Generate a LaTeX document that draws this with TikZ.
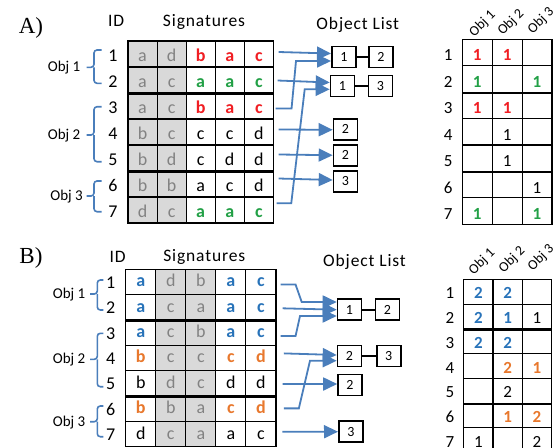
\documentclass[tikz,border=0pt]{standalone}
\usepackage{graphicx}
\usepackage{fontspec}
\setmainfont{Carlito}
\newfontfamily\panelfont{Liberation Serif}
\usetikzlibrary{arrows.meta,calc}
\definecolor{gfill}{RGB}{217,217,217}
\definecolor{gtext}{RGB}{130,130,130}
\definecolor{cred}{RGB}{240,30,35}
\definecolor{cgreen}{RGB}{34,160,70}
\definecolor{cblue}{RGB}{40,115,185}
\definecolor{corange}{RGB}{232,120,45}
\definecolor{ablue}{RGB}{74,126,187}
\newcommand\TGy[1]{\textcolor{gtext}{#1}}
\newcommand\TRd[1]{\textcolor{cred}{\textbf{#1}}}
\newcommand\TGn[1]{\textcolor{cgreen}{\textbf{#1}}}
\newcommand\TBu[1]{\textcolor{cblue}{\textbf{#1}}}
\newcommand\TOr[1]{\textcolor{corange}{\textbf{#1}}}
\newcommand\TRot[1]{\rotatebox{45}{#1}}
\begin{document}
\begin{tikzpicture}[x=1pt,y=-1pt,
  paneltitle/.style={anchor=base,inner sep=0pt,font=\panelfont\fontsize{23}{25}\selectfont},
  hdr/.style={anchor=base,inner sep=0pt,font=\fontsize{17.5}{20}\selectfont\addfontfeature{LetterSpace=5}},
  cellA/.style={draw,line width=1.1pt,minimum width=29.06pt,minimum height=26pt,inner sep=0pt,
    text height=15.4pt,text depth=0pt,font=\fontsize{18}{20}\selectfont},
  cellB/.style={draw,line width=1.1pt,minimum width=30.06pt,minimum height=25.34pt,inner sep=0pt,
    text height=11pt,text depth=1pt,font=\fontsize{18}{20}\selectfont},
  matA/.style={draw,line width=1.1pt,minimum width=29.9pt,minimum height=26.43pt,inner sep=0pt,
    text height=16.8pt,text depth=0pt,font=\fontsize{17}{19}\selectfont},
  matB/.style={draw,line width=1.1pt,minimum width=29.33pt,minimum height=24.77pt,inner sep=0pt,
    text height=14pt,text depth=0pt,font=\fontsize{17}{19}\selectfont},
  rowlab/.style={anchor=base,inner sep=0pt,font=\fontsize{18}{20}\selectfont},
  rowlabm/.style={anchor=base,inner sep=0pt,font=\fontsize{17}{19}\selectfont},
  objlab/.style={anchor=base east,inner sep=0pt,font=\fontsize{15}{17}\selectfont},
  colhdr/.style={inner sep=0pt,font=\fontsize{14}{16}\selectfont},
  sepline/.style={line width=2.4pt},
  obox/.style={draw,line width=1.6pt,minimum width=24pt,minimum height=21pt,inner sep=0pt,
    font=\fontsize{14}{16}\selectfont},
  boxlink/.style={line width=1.6pt},
  arr/.style={draw=ablue,line width=1.8pt,-{Triangle[length=14pt,width=13pt]}},
  bracestyle/.style={draw=ablue,line width=1.6pt,rounded corners=3pt}
]
\useasboundingbox (0,0) rectangle (559,447);

%================ Panel A =================
\node[paneltitle] (tA) at (31,33.3) {A)};
\node[hdr] (idA) at (116.2,26.7) {ID};
\node[hdr] (sigA) at (204,26.7) {Signatures};
\node[hdr] (olA) at (357.8,29.3) {Object List};

\fill[gfill] (128,41) rectangle ({128+2*29.06},223);
\foreach \r/\row in {
  1/{\TGy{a},\TGy{d},\TRd{b},\TRd{a},\TRd{c}},
  2/{\TGy{a},\TGy{c},\TGn{a},\TGn{a},\TGn{c}},
  3/{\TGy{a},\TGy{c},\TRd{b},\TRd{a},\TRd{c}},
  4/{\TGy{b},\TGy{c},c,c,d},
  5/{\TGy{b},\TGy{d},c,d,d},
  6/{\TGy{b},\TGy{b},a,c,d},
  7/{\TGy{d},\TGy{c},\TGn{a},\TGn{a},\TGn{c}}}{
  \foreach \t [count=\c] in \row {
    \node[cellA] (A-\r-\c) at ({128+29.06*(\c-0.5)},{41+26*(\r-0.5)}) {\t};
  }
}
\draw[sepline] (A-2-1.south west) -- (A-2-5.south east);
\draw[sepline] (A-5-1.south west) -- (A-5-5.south east);
\foreach \r in {1,...,7}
  \node[rowlab] (lA-\r) at (113,{41+26*(\r-0.5)+7.7}) {\r};

% braces A
\draw[bracestyle] (101.7,50) -- (94,50) -- (94,67.3) -- (86.7,67.3);
\draw[bracestyle] (94,67.3) -- (94,83.3) -- (101.7,83.3);
\draw[bracestyle] (101.7,106.7) -- (94,106.7) -- (94,135) -- (86.7,135);
\draw[bracestyle] (94,135) -- (94,161.7) -- (101.7,161.7);
\draw[bracestyle] (101.7,181) -- (94,181) -- (94,196) -- (86.7,196);
\draw[bracestyle] (94,196) -- (94,211.7) -- (101.7,211.7);
\node[objlab] (oa1) at (80.5,71.7) {Obj 1};
\node[objlab] (oa2) at (80.5,139.4) {Obj 2};
\node[objlab] (oa3) at (83,200.4) {Obj 3};

% object list A
\node[obox] (oA1a) at (343.8,56.8) {1};
\node[obox] (oA1b) at (380.8,56.8) {2};
\node[obox] (oA2a) at (342.5,85.8) {1};
\node[obox] (oA2b) at (380.5,85.8) {3};
\node[obox] (oA3) at (345.5,129.3) {2};
\node[obox] (oA4) at (345.5,155.2) {2};
\node[obox] (oA5) at (345.5,181.3) {3};
\draw[boxlink] (oA1a.east) -- (oA1b.west);
\draw[boxlink] (oA2a.east) -- (oA2b.west);

% arrows A
\draw[arr] ($(A-1-5.east)+(4.7,-2)$) -- ($(oA1a.west)+(0,-3.3)$);
\draw[arr] ($(A-2-5.east)+(3.7,0.5)$) -- ($(oA2a.west)+(0,-3.3)$);
\draw[arr] ($(A-3-5.east)+(1.7,2.5)$) -- ++(16,0) -- ($(oA1a.west)+(-35,4.2)$) -- ($(oA1a.west)+(0,4.2)$);
\draw[arr] ($(A-4-5.east)+(4.7,-2.5)$) -- ($(oA3.west)+(0,0.5)$);
\draw[arr] ($(A-5-5.east)+(4.7,-3.5)$) -- ($(oA4.west)+(0,0)$);
\draw[arr] ($(A-6-5.east)+(4.7,-5.5)$) -- ($(oA5.west)+(0,-1.3)$);
\draw[arr] ($(A-7-5.east)+(2.7,-6.7)$) -- ++(14.7,0) -- ($(oA2a.west)+(-25,3.5)$) -- ($(oA2a.west)+(0,3.5)$);

% matrix A
\node[colhdr] (hA1) at (482.5,24) {\TRot{Obj 1}};
\node[colhdr] (hA2) at (511,22.5) {\TRot{Obj 2}};
\node[colhdr] (hA3) at (541,21) {\TRot{Obj 3}};
\foreach \r/\row in {
  1/{\TRd{1},\TRd{1},{}},
  2/{\TGn{1},{},\TGn{1}},
  3/{\TRd{1},\TRd{1},{}},
  4/{{},1,{}},
  5/{{},1,{}},
  6/{{},{},1},
  7/{\TGn{1},{},\TGn{1}}}{
  \foreach \t [count=\c] in \row {
    \node[matA] (MA-\r-\c) at ({462.3+29.9*(\c-0.5)},{39.3+26.43*(\r-0.5)}) {\t};
  }
}
\draw[sepline] (MA-2-1.south west) -- (MA-2-3.south east);
\draw[sepline] (MA-5-1.south west) -- (MA-5-3.south east);
\foreach \r in {1,...,7}
  \node[rowlabm] (rA-\r) at (448.3,{39.3+26.43*(\r-0.5)+8.4}) {\r};

%================ Panel B =================
\node[paneltitle] (tB) at (31,263.5) {B)};
\node[hdr] (idB) at (117.7,262.5) {ID};
\node[hdr] (sigB) at (204.3,261.7) {Signatures};
\node[hdr] (olB) at (364.5,266.7) {Object List};

\fill[gfill] ({125.7+30.06},269.3) rectangle ({125.7+3*30.06},446.7);
\foreach \r/\row in {
  1/{\TBu{a},\TGy{d},\TGy{b},\TBu{a},\TBu{c}},
  2/{\TBu{a},\TGy{c},\TGy{a},\TBu{a},\TBu{c}},
  3/{\TBu{a},\TGy{c},\TGy{b},\TBu{a},\TBu{c}},
  4/{\TOr{b},\TGy{c},\TGy{c},\TOr{c},\TOr{d}},
  5/{b,\TGy{d},\TGy{c},d,d},
  6/{\TOr{b},\TGy{b},\TGy{a},\TOr{c},\TOr{d}},
  7/{d,\TGy{c},\TGy{a},a,c}}{
  \foreach \t [count=\c] in \row {
    \node[cellB] (B-\r-\c) at ({125.7+30.06*(\c-0.5)},{269.3+25.34*(\r-0.5)}) {\t};
  }
}
\draw[sepline] (B-2-1.south west) -- (B-2-5.south east);
\draw[sepline] (B-5-1.south west) -- (B-5-5.south east);
\foreach \r in {1,...,7}
  \node[rowlab] (lB-\r) at (110.7,{269.3+25.34*(\r-0.5)+6.5}) {\r};

% braces B
\draw[bracestyle] (103.3,280) -- (97.3,280) -- (97.3,294) -- (90,294);
\draw[bracestyle] (97.3,294) -- (97.3,310) -- (103.3,310);
\draw[bracestyle] (103.3,333.3) -- (97.3,333.3) -- (97.3,359.3) -- (90,359.3);
\draw[bracestyle] (97.3,359.3) -- (97.3,386.7) -- (103.3,386.7);
\draw[bracestyle] (103.3,406) -- (97.3,406) -- (97.3,421.7) -- (90,421.7);
\draw[bracestyle] (97.3,421.7) -- (97.3,436.7) -- (103.3,436.7);
\node[objlab] (ob1) at (85.5,298.4) {Obj 1};
\node[objlab] (ob2) at (85.5,363.7) {Obj 2};
\node[objlab] (ob3) at (85.5,426.1) {Obj 3};

% object list B
\node[obox] (oB1a) at (349.5,309.7) {1};
\node[obox] (oB1b) at (387.3,309.7) {2};
\node[obox] (oB2a) at (349.5,356) {2};
\node[obox] (oB2b) at (388.7,356) {3};
\node[obox] (oB3) at (350,385) {2};
\node[obox] (oB4) at (350.8,431.7) {3};
\draw[boxlink] (oB1a.east) -- (oB1b.west);
\draw[boxlink] (oB2a.east) -- (oB2b.west);

% arrows B
\draw[arr] ($(B-1-5.east)+(4,2.5)$) -- ++(15,0) -- ($(oB1a.west)+(-35,-7.7)$) -- ($(oB1a.west)+(0,-7.7)$);
\draw[arr] ($(B-2-5.east)+(6,1)$) -- ($(oB1a.west)+(0,0)$);
\draw[arr] ($(B-3-5.east)+(4,3.4)$) -- ++(15,0) -- ($(oB1a.west)+(-36.7,6.3)$) -- ($(oB1a.west)+(0,6.3)$);
\draw[arr] ($(B-4-5.east)+(7.3,-4.6)$) -- ($(oB2a.west)+(0,-1)$);
\draw[arr] ($(B-5-5.east)+(6,0.7)$) -- ($(oB3.west)+(0,-1)$);
\draw[arr] ($(B-6-5.east)+(7.3,-0.3)$) -- ++(15,0) -- ($(oB2a.west)+(-26.7,4.7)$) -- ($(oB2a.west)+(0,4.7)$);
\draw[arr] ($(B-7-5.east)+(5.7,-2.2)$) -- ($(oB4.west)+(0,0)$);

% matrix B
\node[colhdr] (hB1) at (482,262) {\TRot{Obj 1}};
\node[colhdr] (hB2) at (512,260) {\TRot{Obj 2}};
\node[colhdr] (hB3) at (541,258) {\TRot{Obj 3}};
\foreach \r/\row in {
  1/{\TBu{2},\TBu{2},{}},
  2/{\TBu{2},\TBu{1},1},
  3/{\TBu{2},\TBu{2},{}},
  4/{{},\TOr{2},\TOr{1}},
  5/{{},2,{}},
  6/{{},\TOr{1},\TOr{2}},
  7/{1,{},2}}{
  \foreach \t [count=\c] in \row {
    \node[matB] (MB-\r-\c) at ({463.7+29.33*(\c-0.5)},{279.3+24.77*(\r-0.5)}) {\t};
  }
}
\draw[sepline] (MB-2-1.south west) -- (MB-2-3.south east);
\draw[sepline] (MB-5-1.south west) -- (MB-5-3.south east);
\foreach \r in {1,...,7}
  \node[rowlabm] (rB-\r) at (450,{279.3+24.77*(\r-0.5)+7}) {\r};
\end{tikzpicture}
\end{document}
